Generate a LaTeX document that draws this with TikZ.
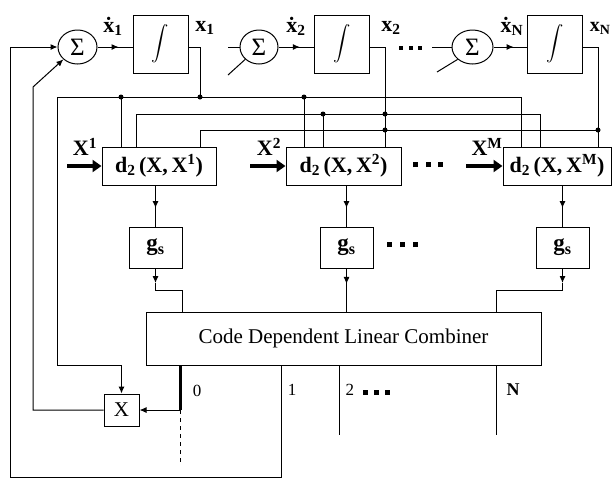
\documentclass[tikz,border=0pt]{standalone}
\usepackage{amsmath}
\usepackage{fontspec}
\setmainfont{Liberation Serif}
\usetikzlibrary{arrows.meta,decorations.markings,shapes.geometric,calc}
\newcommand\fs[1]{\fontsize{#1}{#1}\selectfont}
\newcommand\dd[1]{d\textsubscript{2}\,(X,\,X\textsuperscript{#1})}
\newcommand\xdot[1]{ẋ\textsubscript{#1}}
\newcommand\sq[1]{\raisebox{1pt}{\rule{#1}{#1}}}
\newcommand\ellip[2]{\sq{#1}\hspace{#2}\sq{#1}\hspace{#2}\sq{#1}}
\newcommand\intsym{\fs{19}$\displaystyle\int$}
\begin{document}
\begin{tikzpicture}[x=1pt,y=-1pt,line width=1pt,
  blk/.style={draw,rectangle,inner sep=0pt,line width=1pt},
  intbox/.style={blk,minimum width=55pt,minimum height=58pt},
  dbox/.style={blk,minimum height=38pt,font={\fs{22}\bfseries}},
  gbox/.style={blk,minimum width=53pt,minimum height=41pt,font={\fs{23}\bfseries}},
  sumc/.style={draw,ellipse,inner sep=0pt,minimum width=39pt,minimum height=34pt,font=\fs{25}},
  jdot/.style={circle,fill,inner sep=0pt,minimum size=5pt},
  lab/.style={font={\fs{22}\bfseries},inner sep=0pt},
  tip/.style={-{Latex[length=7pt,width=6pt]}},
  midarrow/.style={postaction={decorate},decoration={markings,mark=at position #1 with {\arrow{Latex[length=7pt,width=6pt]}}}},
  thickin/.style={line width=4.5pt,-{Triangle[length=9pt,width=12pt]}},
]
\useasboundingbox (0,0) rectangle (613,483);

% summers and integrators
\node[sumc] (S1) at (77.5,47) {Σ};
\node[sumc,minimum width=38pt] (S2) at (259,47) {Σ};
\node[sumc,minimum width=41pt] (SN) at (472.5,47) {Σ};
\node[intbox] (I1) at (160.5,44) {\intsym};
\node[intbox] (I2) at (342,44) {\intsym};
\node[intbox] (IN) at (555,44) {\intsym};

% distance boxes
\node[dbox,minimum width=114pt] (D1) at (159,166) {\dd{1}};
\node[dbox,minimum width=115pt] (D2) at (343.5,166) {\dd{2}};
\node[dbox,minimum width=108pt] (DM) at (557,166) {\dd{M}};

% g_s boxes
\node[gbox] (G1) at (155.5,247.5) {g\textsubscript{s}};
\node[gbox] (G2) at (346.5,247.5) {g\textsubscript{s}};
\node[gbox] (GM) at (562.5,247.5) {g\textsubscript{s}};

% combiner and multiplier
\node[blk,minimum width=395pt,minimum height=53pt,font=\fs{21}] (C) at (343.5,338.5) {Code Dependent Linear Combiner};
\node[blk,minimum width=35pt,minimum height=32pt,font=\fs{21}] (XB) at (121.5,410) {X};

% labels
\node[lab] (lxd1) at (113,26) {\xdot{1}};
\node[lab] (lxd2) at (296,26) {\xdot{2}};
\node[lab] (lxdN) at (512,26) {\xdot{N}};
\node[lab] (lx1) at (205,28) {x\textsubscript{1}};
\node[lab] (lx2) at (391,28) {x\textsubscript{2}};
\node[lab,anchor=east,font={\fs{20}\bfseries}] (lxN) at (611,28) {x\textsubscript{N}};
\node[lab] (lX1) at (85,147) {X\textsuperscript{1}};
\node[lab] (lX2) at (269,147) {X\textsuperscript{2}};
\node[lab] (lXM) at (487,147) {X\textsuperscript{M}};
\node[font=\fs{17},inner sep=0pt] (l0) at (197,391) {0};
\node[font=\fs{17},inner sep=0pt] (l1) at (292,390) {1};
\node[font=\fs{17},inner sep=0pt,anchor=west] (l2) at (345,390) {2\hspace{9pt}\ellip{4.5pt}{6.5pt}};
\node[font={\fs{18}\bfseries},inner sep=0pt] (lN) at (513,390) {N};
\node[inner sep=0pt] (e1) at (410.5,48) {\ellip{4pt}{5.5pt}};
\node[inner sep=0pt] (e2) at (428,165) {\ellip{5pt}{7.5pt}};
\node[inner sep=0pt] (e3) at (402.5,245) {\ellip{5pt}{8pt}};

% coordinates
\coordinate (o1) at (200,47);
\coordinate (o2) at (385,47);
\coordinate (oN) at (598,47);
\coordinate (c0) at (57,97);
\coordinate (t1) at (121,97);
\coordinate (j1) at (200,97);
\coordinate (t2) at (304,97);
\coordinate (c1) at (521,97);
\coordinate (b2a) at (136,114);
\coordinate (t3) at (323,114);
\coordinate (j2) at (385,114);
\coordinate (b2b) at (540,114);
\coordinate (b3a) at (200,130);
\coordinate (j3) at (385,130);
\coordinate (b3b) at (598,130);
\coordinate (c0b) at (57,365);
\coordinate (xm) at (121.5,365);
\coordinate (fbL) at (10,47);
\coordinate (fb1) at (281,477);
\coordinate (fb2) at (10,477);
\coordinate (d1) at (33,87);
\coordinate (d1b) at (33,410);
\coordinate (s2a) at (228,47);
\coordinate (s2b) at (228,75);
\coordinate (sNa) at (432,47);
\coordinate (sNb) at (437,72);
\coordinate (g1a) at (155.5,283);
\coordinate (g1b) at (155.5,290);
\coordinate (g1c) at (182,290);
\coordinate (gMa) at (562.5,283);
\coordinate (gMb) at (562.5,290);
\coordinate (gMc) at (496,290);
\coordinate (o0) at (180,410);
\coordinate (o0e) at (180,463);
\coordinate (o2e) at (339,435);
\coordinate (oNe) at (496,435);
\coordinate (in1) at (67,166);
\coordinate (in2) at (250,166);
\coordinate (inM) at (466,166);

% summer -> integrator
\draw[midarrow=0.6] (S1.east) -- (S1.east -| I1.west);
\draw[midarrow=0.6] (S2.east) -- (S2.east -| I2.west);
\draw[midarrow=0.6] (SN.east) -- (SN.east -| IN.west);

% inputs of summers 2..N
\draw (s2a) -- (S2.west);
\draw (s2b) -- (S2.south west);
\draw (sNa) -- (SN.west);
\draw (sNb) -- (SN.south west);

% integrator outputs
\draw (o1 -| I1.east) -- (o1) -- (j1);
\draw (o2 -| I2.east) -- (o2) -- (D2.north -| o2);
\draw (oN -| IN.east) -- (oN) -- (DM.north -| oN);

% buses
\draw[tip] (DM.north -| c1) -- (c1) -- (c0) -- (c0b) -- (xm) -- (XB.north);
\draw (t1) -- (D1.north -| t1);
\draw (t2) -- (D2.north -| t2);
\draw (D1.north -| b2a) -- (b2a) -- (b2b) -- (DM.north -| b2b);
\draw (t3) -- (D2.north -| t3);
\draw (D1.north -| b3a) -- (b3a) -- (b3b);
\foreach \p in {t1,j1,t2,t3,j2,j3,b3b} \node[jdot] at (\p) {};

% sample inputs
\draw[thickin] (in1) -- (D1.west);
\draw[thickin] (in2) -- (D2.west);
\draw[thickin] (inM) -- (DM.west);

% d -> g
\draw[midarrow=0.55] (D1.south -| G1.north) -- (G1.north);
\draw[midarrow=0.55] (D2.south -| G2.north) -- (G2.north);
\draw[midarrow=0.55] (DM.south -| GM.north) -- (GM.north);

% g -> combiner
\draw[tip] (G1.south) -- (g1a);
\draw (g1a) -- (g1b) -- (g1c) -- (C.north -| g1c);
\draw[midarrow=0.36] (G2.south) -- (C.north -| G2.south);
\draw[tip] (GM.south) -- (gMa);
\draw (gMa) -- (gMb) -- (gMc) -- (C.north -| gMc);

% combiner outputs
\draw[line width=3pt] (C.south -| o0) -- (o0);
\draw[tip] (o0) -- (XB.east);
\draw[dash pattern=on 4pt off 4pt] (o0) -- (o0e);
\draw[tip] (C.south -| fb1) -- (fb1) -- (fb2) -- (fbL) -- (S1.west);
\draw (C.south -| o2e) -- (o2e);
\draw (C.south -| oNe) -- (oNe);

% multiplier -> summer 1
\draw[tip] (XB.west) -- (d1b) -- (d1) -- (S1.south west);
\end{tikzpicture}
\end{document}
